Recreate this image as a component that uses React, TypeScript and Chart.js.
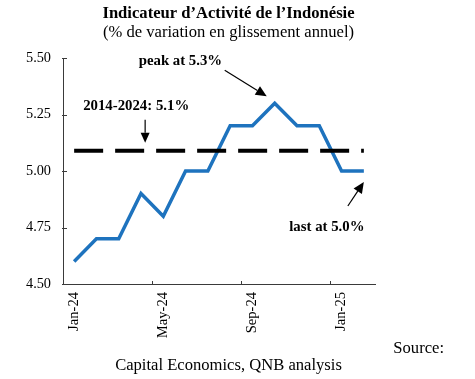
import React, { useEffect, useRef } from "react";
import { Chart, registerables } from "chart.js";

Chart.register(...registerables);

const months = [
  "Jan-24", "Feb-24", "Mar-24", "Apr-24", "May-24", "Jun-24", "Jul-24",
  "Aug-24", "Sep-24", "Oct-24", "Nov-24", "Dec-24", "Jan-25", "Feb-25",
];
const activity = [4.6, 4.7, 4.7, 4.9, 4.8, 5.0, 5.0, 5.2, 5.2, 5.3, 5.2, 5.2, 5.0, 5.0];
const averageValue = 5.09;
const yTicks = [4.5, 4.75, 5.0, 5.25, 5.5];

const titleText = "Indicateur d\u2019Activit\u00e9 de l\u2019Indon\u00e9sie";
const subtitleText = "(% de variation en glissement annuel)";
const peakText = "peak at 5.3%";
const avgText = "2014-2024: 5.1%";
const lastText = "last at 5.0%";
const sourceText = "Source:";
const sourceText2 = "Capital Economics, QNB analysis";

const SERIF = "'Liberation Serif', 'Times New Roman', serif";
const AXIS = "#3a3a3a";
const BLUE = "#1E73BE";

function arrow(ctx: CanvasRenderingContext2D, x1: number, y1: number, x2: number, y2: number, len: number, half: number) {
  const ang = Math.atan2(y2 - y1, x2 - x1);
  const bx = x2 - len * Math.cos(ang);
  const by = y2 - len * Math.sin(ang);
  ctx.beginPath();
  ctx.moveTo(x1, y1);
  ctx.lineTo(bx, by);
  ctx.stroke();
  ctx.beginPath();
  ctx.moveTo(x2, y2);
  ctx.lineTo(bx + half * Math.sin(ang), by - half * Math.cos(ang));
  ctx.lineTo(bx - half * Math.sin(ang), by + half * Math.cos(ang));
  ctx.closePath();
  ctx.fill();
}

const annotPlugin = {
  id: "annot",
  afterDraw(chart: any) {
    const { ctx, chartArea } = chart;
    const x = chart.scales.x;
    const y = chart.scales.y;
    ctx.save();
    // tick marks (inside)
    ctx.strokeStyle = AXIS;
    ctx.lineWidth = 1;
    yTicks.forEach((v) => {
      const py = Math.round(y.getPixelForValue(v)) + 0.5;
      ctx.beginPath();
      ctx.moveTo(chartArea.left - 1, py);
      ctx.lineTo(chartArea.left + 4, py);
      ctx.stroke();
    });
    const step = x.getPixelForValue(1) - x.getPixelForValue(0);
    [4, 8, 12].forEach((i) => {
      const px = Math.round(x.getPixelForValue(i) - step / 2) + 0.5;
      ctx.beginPath();
      ctx.moveTo(px, chartArea.bottom);
      ctx.lineTo(px, chartArea.bottom - 3);
      ctx.stroke();
    });

    // titles
    ctx.fillStyle = "#000";
    ctx.textAlign = "center";
    ctx.textBaseline = "alphabetic";
    ctx.font = `bold 16.6px ${SERIF}`;
    ctx.fillText(titleText, 228.5, 18);
    ctx.font = `16.6px ${SERIF}`;
    ctx.fillText(subtitleText, 228.5, 36.5);
    ctx.fillText(sourceText2, 228.5, 370);
    ctx.textAlign = "right";
    ctx.fillText(sourceText, 444, 353);

    // annotations
    ctx.font = `bold 14.8px ${SERIF}`;
    ctx.lineWidth = 1.2;
    ctx.strokeStyle = "#000";
    const peakIdx = activity.indexOf(Math.max(...activity));
    const ppx = x.getPixelForValue(peakIdx);
    const ppy = y.getPixelForValue(activity[peakIdx]);
    ctx.textAlign = "left";
    ctx.fillText(peakText, ppx - 136, ppy - 38);
    arrow(ctx, ppx - 50, ppy - 33, ppx - 8, ppy - 7, 11, 5);

    const ay = y.getPixelForValue(averageValue);
    const x0 = x.getPixelForValue(0);
    ctx.fillText(avgText, x0 + 9, ay - 41);
    arrow(ctx, x0 + 71, ay - 31, x0 + 71, ay - 8, 10, 4.5);

    const li = activity.length - 1;
    const lpx = x.getPixelForValue(li);
    const lpy = y.getPixelForValue(activity[li]);
    ctx.textAlign = "center";
    ctx.fillText(lastText, lpx - 37, lpy + 60);
    arrow(ctx, lpx - 16, lpy + 35, lpx, lpy + 11, 11, 5);
    ctx.restore();
  },
};

export default function App() {
  const ref = useRef<HTMLCanvasElement>(null);
  useEffect(() => {
    if (!ref.current) return;
    const chart = new Chart(ref.current, {
      type: "line",
      data: {
        labels: months,
        datasets: [
          {
            data: activity.map(() => averageValue),
            borderColor: "#000",
            borderWidth: 4,
            borderDash: [29, 12],
            pointRadius: 0,
            fill: false,
          },
          {
            data: activity,
            borderColor: BLUE,
            borderWidth: 3.5,
            pointRadius: 0,
            tension: 0,
            fill: false,
            borderJoinStyle: "miter",
          },
        ],
      },
      options: {
        animation: false,
        responsive: false,
        maintainAspectRatio: false,
        layout: { padding: { left: 0, top: 58, right: 100, bottom: 0 } },
        plugins: {
          legend: { display: false },
          title: { display: false },
          tooltip: { enabled: false },
        },
        scales: {
          x: {
            type: "category",
            offset: true,
            grid: { display: false, offset: true, drawTicks: false },
            border: { display: true, color: AXIS, width: 1 },
            ticks: {
              autoSkip: false,
              maxRotation: 90,
              minRotation: 90,
              padding: 8,
              color: "#000",
              font: { family: SERIF, size: 14.6 },
              callback: (_v: any, i: number) => (i % 4 === 0 ? months[i] : ""),
            },
            afterFit: (s: any) => {
              s.height = 95;
            },
          },
          y: {
            min: 4.5,
            max: 5.5,
            grid: { display: false, drawTicks: false },
            border: { display: true, color: AXIS, width: 1 },
            afterBuildTicks: (s: any) => {
              s.ticks = yTicks.map((v) => ({ value: v }));
            },
            ticks: {
              padding: 12,
              color: "#000",
              font: { family: SERIF, size: 14.3 },
              callback: (v: any) => Number(v).toFixed(2),
            },
            afterFit: (s: any) => {
              s.width = 63;
            },
          },
        },
      },
      plugins: [annotPlugin],
    });
    return () => chart.destroy();
  }, []);
  return (
    <div style={{ position: "absolute", left: 0, top: 0, width: 475, height: 379 }}>
      <canvas ref={ref} width={475} height={379} style={{ width: 475, height: 379 }} />
    </div>
  );
}
